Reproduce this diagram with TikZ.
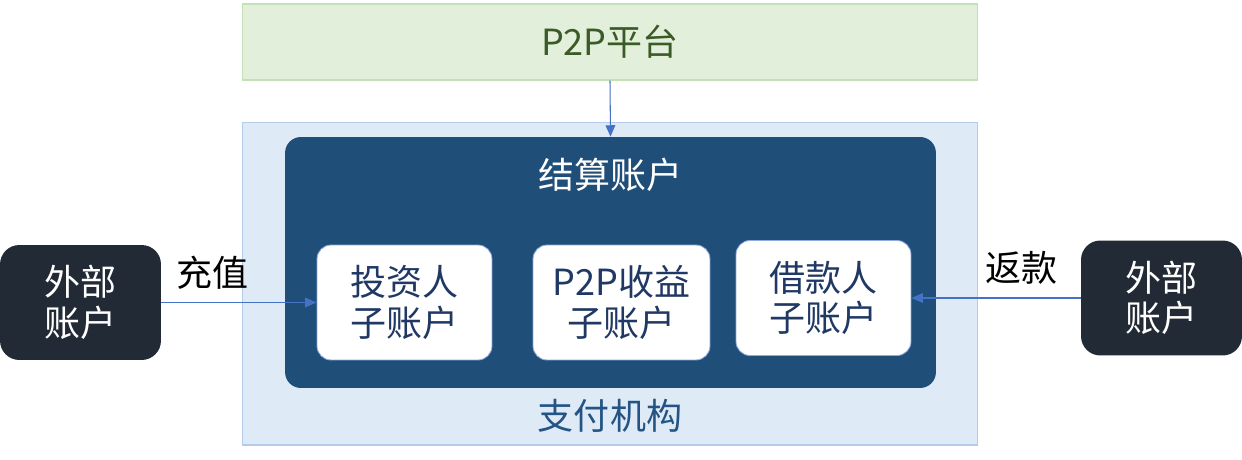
\documentclass[tikz,border=0pt]{standalone}
\usepackage{fontspec}
\setmainfont{Noto Sans CJK SC}
\usepackage{xcolor}
\usepackage{tikz}
\usetikzlibrary{arrows.meta}

\definecolor{verdeclaro}{HTML}{E2EFDA}
\definecolor{verdeborda}{HTML}{C5E0B4}
\definecolor{verdetexto}{HTML}{3A5A28}
\definecolor{azulclaro}{HTML}{DEEBF7}
\definecolor{azulborda}{HTML}{B4CCEA}
\definecolor{azulescuro}{HTML}{1F4E79}
\definecolor{azultexto}{HTML}{203864}
\definecolor{azulseta}{HTML}{4472C4}
\definecolor{cinzaescuro}{HTML}{222A35}

\tikzset{
  texto/.style={font=\fontsize{20.5}{23}\selectfont, align=center},
  caixa/.style={texto, draw=azulseta!60, line width=0.5pt, fill=white, rounded corners=8pt,
    text=azultexto, minimum width=3.5cm, minimum height=2.3cm},
  externo/.style={texto, fill=cinzaescuro, rounded corners=11pt, text=white,
    minimum width=3.22cm, minimum height=2.3cm},
  seta/.style={draw=azulseta, line width=0.6pt, -{Triangle[length=6.5pt,width=5.5pt]}}
}

\begin{document}
\begin{tikzpicture}[x=0.02cm, y=-0.02cm]
        \useasboundingbox (0,0) rectangle (1242,460);

        % Plataforma
        \node[texto, fill=verdeclaro, draw=verdeborda, line width=0.6pt, text=verdetexto,
          minimum width=14.72cm, minimum height=1.52cm] (plataforma) at (610,42) {P2P平台};

        % Instituicao de pagamento
        \node[fill=azulclaro, draw=azulborda, line width=0.6pt,
          minimum width=14.72cm, minimum height=6.46cm,
          label={[texto, text=azulescuro!85!azulseta, anchor=center, yshift=0.6cm]south:支付机构}]
          (pagamento) at (610,283.5) {};

        % Conta de liquidacao
        \node[fill=azulescuro, rounded corners=9pt,
          minimum width=13.02cm, minimum height=5.02cm,
          label={[texto, text=white, anchor=center, yshift=-0.76cm]north:结算账户}]
          (liquidacao) at (610.5,262.5) {};

        % Subcontas
        \node[caixa] (investidor) at (404.5,302.5) {投资人\\子账户};
        \node[caixa, minimum width=3.54cm] (receita) at (621.5,302.5) {P2P收益\\子账户};
        \node[caixa] (tomador) at (823.5,298) {借款人\\子账户};

        % Contas externas
        \node[externo] (externoA) at (80.5,302.5) {外部\\账户};
        \node[externo] (externoB) at (1161.5,298) {外部\\账户};

        % Setas
        \draw[seta] (plataforma.south) -- (liquidacao.north);
        \draw[seta] (externoA.east) -- (investidor.west)
          node[texto, pos=0.33, yshift=0.6cm] {充值};
        \draw[seta] (externoB.west) -- (tomador.east)
          node[texto, pos=0.35, yshift=0.6cm] {返款};
    \end{tikzpicture}
\end{document}
